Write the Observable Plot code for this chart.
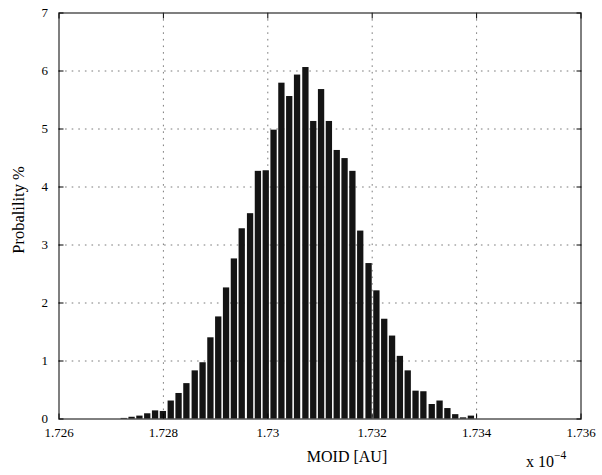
<!DOCTYPE html>
<html>
<head>
<meta charset="utf-8">
<script src="https://cdn.jsdelivr.net/npm/d3@7"></script>
<script src="https://cdn.jsdelivr.net/npm/@observablehq/plot@0.6"></script>
<style>
  html, body { margin: 0; padding: 0; background: #fff; }
  #chart svg { display: block; }
</style>
</head>
<body>
<div id="chart"></div>
<script>
// Histogram bin centres (MOID, in units of 1e-4 AU)
const binCenters = [
  1.72725, 1.72740, 1.72755, 1.72770, 1.72785, 1.72800, 1.72815, 1.72830, 1.72845, 1.72861,
  1.72876, 1.72891, 1.72906, 1.72921, 1.72936, 1.72951, 1.72967, 1.72982, 1.72997, 1.73012,
  1.73027, 1.73042, 1.73057, 1.73073, 1.73088, 1.73103, 1.73118, 1.73133, 1.73148, 1.73163,
  1.73178, 1.73194, 1.73209, 1.73224, 1.73239, 1.73254, 1.73269, 1.73284, 1.73299, 1.73315,
  1.73330, 1.73345, 1.73360, 1.73375, 1.73390
];
// Probability (%) per bin
const probability = [
  0.01, 0.03, 0.05, 0.09, 0.14, 0.13, 0.31, 0.44, 0.61, 0.83,
  0.97, 1.40, 1.76, 2.26, 2.76, 3.28, 3.54, 4.27, 4.28, 4.98,
  5.79, 5.56, 5.93, 6.06, 5.13, 5.68, 5.13, 4.63, 4.49, 4.27,
  3.24, 2.68, 2.21, 1.72, 1.43, 1.08, 0.83, 0.48, 0.47, 0.25,
  0.31, 0.18, 0.075, 0.02, 0.05
];
const binWidth = 0.0001514;

const xTicks = [1.726, 1.728, 1.730, 1.732, 1.734, 1.736];
const xTickLabels = ["1.726", "1.728", "1.73", "1.732", "1.734", "1.736"];
const yTicks = [0, 1, 2, 3, 4, 5, 6, 7];
const yTickLabels = ["0", "1", "2", "3", "4", "5", "6", "7"];

const xLabel = "MOID [AU]";
const yLabel = "Probalility %";
const scaleBase = "x 10";
const scaleExp = "\u22124";

const bins = binCenters.map((c, i) => ({x1: c - binWidth / 2, x2: c + binWidth / 2, p: probability[i]}));

const gridStyle = {stroke: "#7a7a7a", strokeOpacity: 1, strokeWidth: 1, strokeDasharray: "1.6,5"};
const serif = "'Liberation Serif', 'Times New Roman', Times, serif";

const chart = Plot.plot({
  width: 602,
  height: 475,
  marginLeft: 58.5,
  marginRight: 21.5,
  marginTop: 12.5,
  marginBottom: 56.5,
  style: {fontFamily: serif, fontSize: "13px", background: "#fff", color: "#000"},
  x: {domain: [1.726, 1.736]},
  y: {domain: [0, 7]},
  marks: [
    Plot.gridX(xTicks.slice(1, -1), gridStyle),
    Plot.gridY(yTicks.slice(1, -1), gridStyle),
    Plot.rectY(bins, {x1: "x1", x2: "x2", y1: 0, y2: "p", fill: "#141414", insetLeft: 0.8, insetRight: 0.8}),
    // labels
    Plot.axisX(xTicks, {anchor: "bottom", tickSize: 0, tickPadding: 8.5, label: null,
      tickFormat: (d) => xTickLabels[xTicks.indexOf(d)], fontSize: 13}),
    Plot.axisY(yTicks, {anchor: "left", tickSize: 0, tickPadding: 11, label: null,
      tickFormat: (d) => yTickLabels[yTicks.indexOf(d)], fontSize: 13}),
    // inward ticks
    Plot.axisX(xTicks, {anchor: "bottom", tickSize: -5, label: null, tickFormat: () => ""}),
    Plot.axisX(xTicks, {anchor: "top", tickSize: -5, label: null, tickFormat: () => ""}),
    Plot.axisY(yTicks, {anchor: "left", tickSize: -5, label: null, tickFormat: () => ""}),
    Plot.axisY(yTicks, {anchor: "right", tickSize: -5, label: null, tickFormat: () => ""}),
    Plot.frame({stroke: "#000", strokeWidth: 1}),
    // axis titles
    Plot.text([xLabel], {frameAnchor: "bottom", dx: 27, dy: 43, fontSize: 16, fill: "#000"}),
    Plot.text([yLabel], {frameAnchor: "left", dx: -40.5, dy: -6, rotate: -90, textAnchor: "middle", fontSize: 16.5, fill: "#000"}),
    Plot.text([scaleBase], {frameAnchor: "bottom-right", dx: -55, dy: 48, textAnchor: "start", fontSize: 16, fill: "#000"}),
    Plot.text([scaleExp], {frameAnchor: "bottom-right", dx: -27, dy: 40, textAnchor: "start", fontSize: 11.5, fill: "#000"})
  ]
});
document.getElementById("chart").appendChild(chart);
</script>
</body>
</html>
